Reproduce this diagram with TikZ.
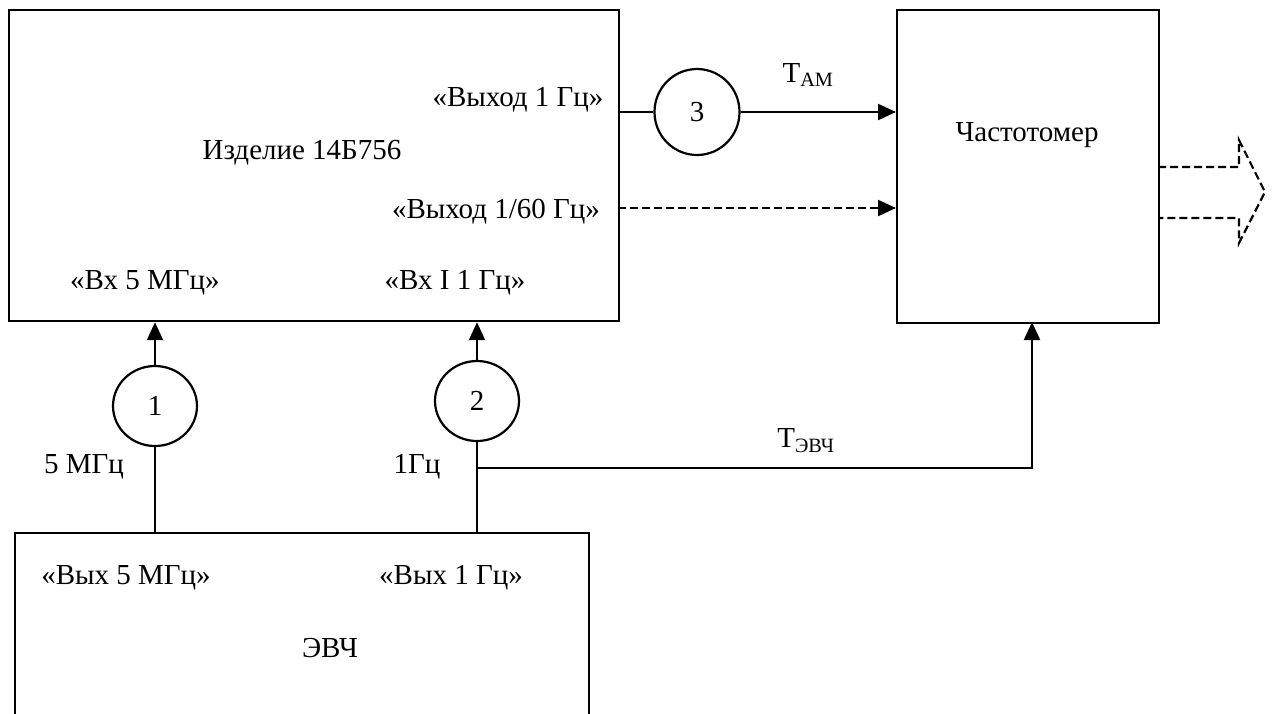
\documentclass[tikz,border=0pt]{standalone}
\usepackage{fontspec}
\setmainfont{Liberation Serif}
\usetikzlibrary{arrows.meta,shapes.geometric}
\begin{document}
\begin{tikzpicture}[x=1pt,y=-1pt,
  box/.style={draw, line width=2.2pt, rectangle, inner sep=0},
  lbl/.style={inner sep=0, font=\fontsize{29}{33}\selectfont},
  circ/.style={draw, ellipse, line width=2.2pt, minimum width=84pt, minimum height=80pt, inner sep=0, font=\fontsize{29}{33}\selectfont},
  conn/.style={line width=2.2pt},
  arr/.style={conn, -{Triangle[length=18pt,width=16pt]}},
  darr/.style={arr, dash pattern=on 8pt off 4pt},
  dline/.style={conn, dash pattern=on 8pt off 4pt},
]
\useasboundingbox (0,0) rectangle (1272,713);
\clip (0,0) rectangle (1272,713);

% blocks
\node[box, anchor=north west, minimum width=610pt, minimum height=311pt] (izd) at (8,9) {};
\node[box, anchor=north west, minimum width=262pt, minimum height=313pt] (chast) at (896,9) {};
\node[box, anchor=north west, minimum width=574pt, minimum height=240pt] (evch) at (14,532) {};

% circles
\node[circ] (c1) at (155,406) {1};
\node[circ] (c2) at (477,401) {2};
\node[circ, minimum height=86pt, minimum width=85pt] (c3) at (697,112) {3};

% labels
\node[lbl] (t1) at (302,153) {Изделие 14Б756};
\node[lbl] (t2) at (518,100) {«Выход 1 Гц»};
\node[lbl] (t3) at (496,212) {«Выход 1/60 Гц»};
\node[lbl] (t4) at (145,283) {«Вх 5 МГц»};
\node[lbl] (t5) at (455,283) {«Вх I 1 Гц»};
\node[lbl] (t6) at (84,467) {5 МГц};
\node[lbl] (t7) at (417,467) {1Гц};
\node[lbl] (t8) at (808,75) {T\textsubscript{AM}};
\node[lbl] (t9) at (806,441) {T\textsubscript{ЭВЧ}};
\node[lbl] (t10) at (1027,135) {Частотомер};
\node[lbl] (t11) at (126,578) {«Вых 5 МГц»};
\node[lbl] (t12) at (451,578) {«Вых 1 Гц»};
\node[lbl] (t13) at (330,648) {ЭВЧ};

% coordinates
\coordinate (j) at (477,468);
\coordinate (chin) at (1032,322);
\coordinate (d1) at (618,208);
\coordinate (q1) at (1158,167);
\coordinate (q2) at (1158,218);

% connectors
\draw[conn] (evch.north -| c1.south) -- (c1.south);
\draw[arr] (c1.north) -- (c1.north |- izd.south);
\draw[conn] (evch.north -| c2.south) -- (c2.south);
\draw[arr] (c2.north) -- (c2.north |- izd.south);
\draw[arr] (j) -| (chin);
\draw[conn] (izd.east |- c3.west) -- (c3.west);
\draw[arr] (c3.east) -- (chast.west |- c3.east);
\draw[darr] (d1) -- (d1 -| chast.west);
\draw[dline] (q1) -- (1239,167) -- (1239,140) -- (1265,192) -- (1239,243) -- (1239,218) -- (q2);
\end{tikzpicture}
\end{document}
